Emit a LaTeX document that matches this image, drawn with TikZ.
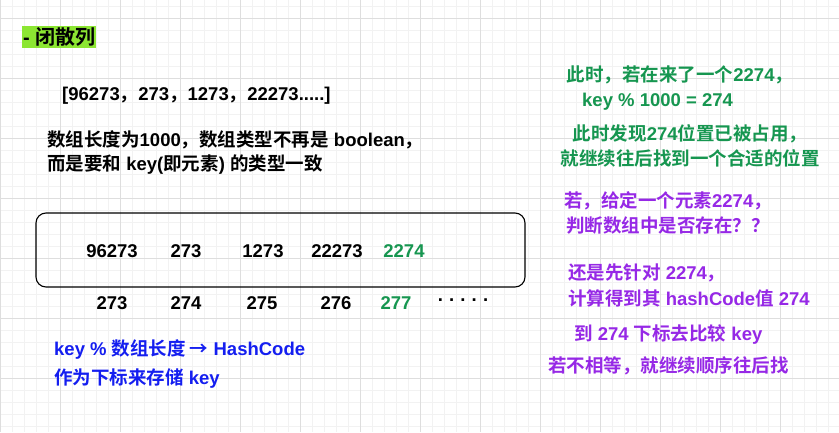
\documentclass[tikz,border=0pt]{standalone}
\usepackage{fontspec}
\setmainfont{Liberation Sans}
\newfontfamily\cjk{Noto Sans CJK SC}[BoldFont={Noto Sans CJK SC Bold}]
\newcommand{\C}[1]{{\cjk #1}}
\begin{document}
\begin{tikzpicture}[x=1pt,y=-1pt,
  txt/.style={font=\fontsize{18.5}{20}\selectfont\bfseries, inner sep=0pt, text=black},
  gr/.style={txt, text=grn},
  pu/.style={txt, text=pur},
  bl/.style={txt, text=blu}]
\definecolor{grn}{RGB}{22,150,80}
\definecolor{pur}{RGB}{150,40,230}
\definecolor{blu}{RGB}{20,30,240}
\definecolor{hl}{RGB}{140,230,50}
\useasboundingbox (0,0) rectangle (839,432);
\fill[white] (0,0) rectangle (839,432);
\foreach \x in {0,12,...,839} \draw[black!5, line width=0.6pt] (\x,0) -- (\x,432);
\foreach \y in {6,18,...,432} \draw[black!5, line width=0.6pt] (0,\y) -- (839,\y);
\foreach \x in {0,60,...,839} \draw[black!13, line width=0.8pt] (\x,0) -- (\x,432);
\foreach \y in {18,78,...,432} \draw[black!13, line width=0.8pt] (0,\y) -- (839,\y);
\node[txt, fill=hl, inner xsep=1pt, inner ysep=2pt, anchor=west, font=\fontsize{20}{22}\selectfont\bfseries] (t) at (22,37) {- \C{闭散列}};
\node[txt, anchor=west] (a) at (62,96) {[96273\C{，}273\C{，}1273\C{，}22273.....]};
\node[txt, anchor=west] (b1) at (47,140) {\C{数组长度为}1000\C{，数组类型不再是} boolean\C{，}};
\node[txt, anchor=west] (b2) at (47,165) {\C{而是要和} key(\C{即元素}) \C{的类型一致}};
\draw[line width=1.1pt, rounded corners=10pt] (36,213) rectangle (525,287);
\node[txt] (n1) at (112,251) {96273};
\node[txt] (n2) at (186,251) {273};
\node[txt] (n3) at (263,251) {1273};
\node[txt] (n4) at (337,251) {22273};
\node[gr] (n5) at (404,251) {2274};
\node[txt] (i1) at (112,303) {273};
\node[txt] (i2) at (186,303) {274};
\node[txt] (i3) at (262,303) {275};
\node[txt] (i4) at (336,303) {276};
\node[gr] (i5) at (396,303) {277};
\node[txt] (i6) at (463,300) {.\,\,.\,\,.\,\,.\,\,.};
\node[bl, anchor=west] (k1) at (54,349) {key \% \C{数组长度 →} HashCode};
\node[bl, anchor=west] (k2) at (54,379) {\C{作为下标来存储} key};
\node[gr] (r1) at (680,75) {\C{此时，若在来了一个}2274\C{，}};
\node[gr, anchor=west] (r2) at (582,102) {key \% 1000 = 274};
\node[gr] (r3) at (690,134) {\C{此时发现}274\C{位置已被占用，}};
\node[gr] (r4) at (690,158) {\C{就继续往后找到一个合适的位置}};
\node[pu] (p1) at (668,201) {\C{若，给定一个元素}2274\C{，}};
\node[pu] (p2) at (668,225) {\C{判断数组中是否存在？？}};
\node[pu, anchor=west] (p3) at (568,273) {\C{还是先针对} 2274\C{，}};
\node[pu, anchor=west] (p4) at (568,298) {\C{计算得到其} hashCode\C{值} 274};
\node[pu, anchor=west] (p5) at (574,334) {\C{到} 274 \C{下标去比较} key};
\node[pu, anchor=west] (p6) at (548,366) {\C{若不相等，就继续顺序往后找}};
\end{tikzpicture}
\end{document}
